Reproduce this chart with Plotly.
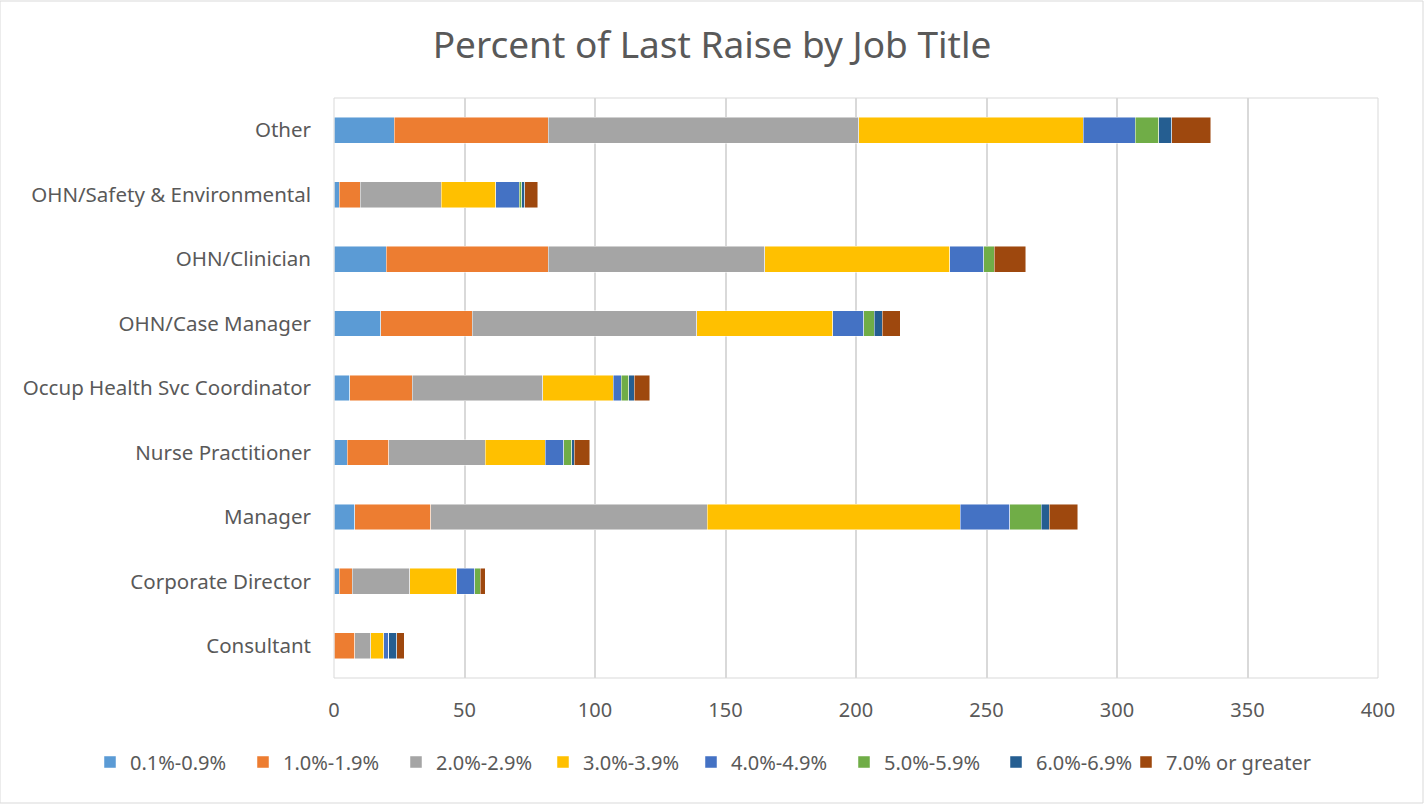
import plotly.graph_objects as go

categories = ["Consultant", "Corporate Director", "Manager", "Nurse Practitioner",
              "Occup Health Svc Coordinator", "OHN/Case Manager", "OHN/Clinician",
              "OHN/Safety & Environmental", "Other"]

s_01_09 = [0, 2, 8, 5, 6, 18, 20, 2, 23]
s_10_19 = [8, 5, 29, 16, 24, 35, 62, 8, 59]
s_20_29 = [6, 22, 106, 37, 50, 86, 83, 31, 119]
s_30_39 = [5, 18, 97, 23, 27, 52, 71, 21, 86]
s_40_49 = [2, 7, 19, 7, 3, 12, 13, 9, 20]
s_50_59 = [0, 2, 12, 3, 3, 4, 4, 1, 9]
s_60_69 = [3, 0, 3, 1, 2, 3, 0, 1, 5]
s_70_up = [3, 2, 11, 6, 6, 7, 12, 5, 15]

series_names = ["0.1%-0.9%", "1.0%-1.9%", "2.0%-2.9%", "3.0%-3.9%",
                "4.0%-4.9%", "5.0%-5.9%", "6.0%-6.9%", "7.0% or greater"]
series_values = [s_01_09, s_10_19, s_20_29, s_30_39, s_40_49, s_50_59, s_60_69, s_70_up]
colors = ["#5B9BD5", "#ED7D31", "#A5A5A5", "#FFC000",
          "#4472C4", "#70AD47", "#255E91", "#9E480E"]

x_ticks = [0, 50, 100, 150, 200, 250, 300, 350, 400]

# legend entry left positions (pixels) in the 1424-wide canvas
legend_left_px = [104, 257, 410, 557, 705, 858, 1010, 1140]

fig = go.Figure()
legend_layouts = {}
for i, (name, vals, col) in enumerate(zip(series_names, series_values, colors)):
    lg = "legend" if i == 0 else f"legend{i + 1}"
    fig.add_trace(go.Bar(
        y=categories, x=vals, name=name, orientation="h", legend=lg,
        marker=dict(color=col, line=dict(color="rgba(255,255,255,0.6)", width=0.8)),
    ))
    legend_layouts[lg] = dict(
        orientation="h", xref="container", x=(legend_left_px[i] - 14) / 1424,
        xanchor="left", yref="container", y=42 / 804, yanchor="middle",
        font=dict(size=20, color="#595959"), itemwidth=30,
        bgcolor="rgba(0,0,0,0)",
    )

fig.update_layout(
    barmode="stack",
    bargap=0.6,
    width=1424, height=804,
    paper_bgcolor="white", plot_bgcolor="white",
    margin=dict(l=334, r=46, t=98, b=126, autoexpand=False),
    font=dict(family="Noto Sans, Liberation Sans, sans-serif", color="#595959", size=18),
    title=dict(text="Percent of Last Raise by Job Title", x=0.5, xanchor="center",
               y=1 - 45 / 804, yanchor="middle",
               font=dict(size=37, color="#595959")),
    xaxis=dict(range=[0, 400], tickvals=x_ticks, showgrid=True, gridcolor="#D9D9D9",
               gridwidth=1.5, zeroline=False, showline=False, ticks="",
               ticklabelstandoff=18,
               tickfont=dict(size=20, color="#595959")),
    yaxis=dict(showgrid=False, showline=False, ticks="", ticklabelstandoff=22,
               tickfont=dict(size=20.5, color="#595959")),
    showlegend=True,
    **legend_layouts,
)
fig.add_shape(type="rect", xref="paper", yref="paper", x0=0, x1=1, y0=0, y1=1,
              line=dict(color="#D9D9D9", width=1))
fig.add_shape(type="rect", xref="x domain", yref="paper",
              x0=-334 / 1044, x1=1 + 45 / 1044, y0=-125 / 580, y1=1 + 97 / 580,
              line=dict(color="#D9D9D9", width=1))
fig.write_html("out.html")
